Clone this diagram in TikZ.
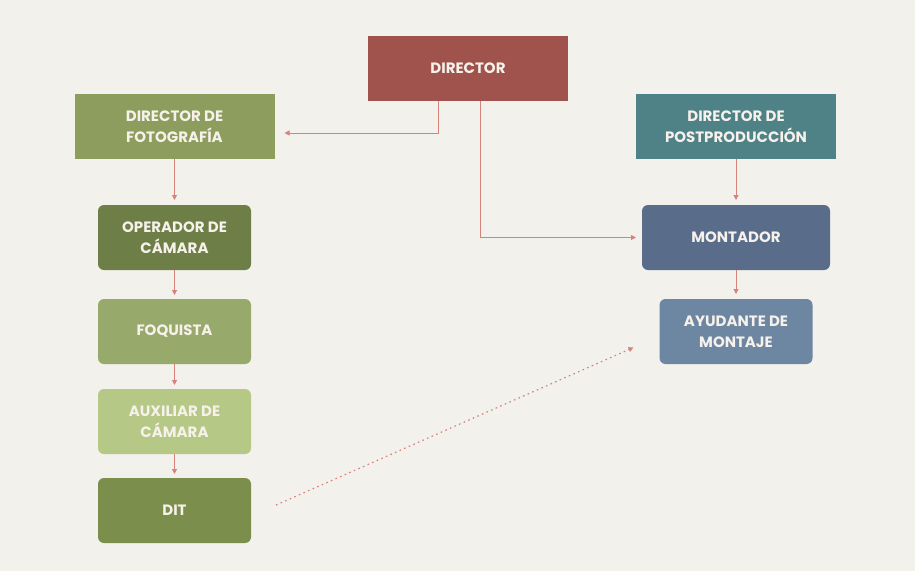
\documentclass[tikz,border=0pt]{standalone}
\usepackage{fontspec}
\setmainfont{Poppins}
\usepackage{xcolor}
\usepackage{tikz}
\usetikzlibrary{arrows.meta, positioning}
\definecolor{paper}{HTML}{F2F1EC}
\definecolor{dirred}{HTML}{A0534D}
\definecolor{fotogreen}{HTML}{8C9D5D}
\definecolor{postteal}{HTML}{4F8286}
\definecolor{opergreen}{HTML}{6E7E47}
\definecolor{foqgreen}{HTML}{97A96B}
\definecolor{auxgreen}{HTML}{B5C886}
\definecolor{ditgreen}{HTML}{7B8E4C}
\definecolor{montblue}{HTML}{596D8A}
\definecolor{ayudblue}{HTML}{6D87A3}
\definecolor{linkred}{HTML}{D7837C}
\definecolor{labelwhite}{HTML}{F6F1EA}
\tikzset{
  head/.style={rectangle, minimum width=200pt, minimum height=65pt, inner sep=0pt, outer sep=0pt, align=center, text=labelwhite, font=\fontsize{15}{21}\selectfont\bfseries},
  crew/.style={head, rounded corners=6pt, minimum width=153pt},
  arr/.style={-{Triangle[length=5pt,width=5pt]}, line width=1pt, linkred},
  dotarr/.style={arr, line width=1.2pt, dash pattern=on 1.6pt off 3.4pt},
}
\begin{document}
\begin{tikzpicture}[x=1pt, y=-1pt, node distance=29pt]
\useasboundingbox[fill=paper] (0,0) rectangle (915,571);
\node[head, fill=dirred] (dir) at (468,68.5) {DIRECTOR};
\node[head, fill=fotogreen] (foto) at (174.5,126.5) {DIRECTOR DE\\FOTOGRAFÍA};
\node[head, fill=postteal] (post) at (736,126.5) {DIRECTOR DE\\POSTPRODUCCIÓN};

\node[crew, fill=opergreen, below=46pt of foto] (oper) {OPERADOR DE\\CÁMARA};
\node[crew, fill=foqgreen, below=of oper] (foq) {FOQUISTA};
\node[crew, fill=auxgreen, below=25pt of foq] (aux) {AUXILIAR DE\\CÁMARA};
\node[crew, fill=ditgreen, below=24pt of aux] (dit) {DIT};

\node[crew, fill=montblue, minimum width=188pt, below=46pt of post] (mont) {MONTADOR};
\node[crew, fill=ayudblue, below=of mont] (ayud) {AYUDANTE DE\\MONTAJE};

\draw[arr, shorten >=10pt] ([xshift=-30pt]dir.south) |- ([yshift=-6.5pt]foto.east);
\draw[arr, shorten >=6pt] ([xshift=12pt]dir.south) |- (mont.west);
\draw[arr, shorten >=5pt] (foto) -- (oper);
\draw[arr, shorten >=4pt] (oper) -- (foq);
\draw[arr, shorten >=4pt] (foq) -- (aux);
\draw[arr, shorten >=4pt] (aux) -- (dit);
\draw[arr, shorten >=5pt] (post) -- (mont);
\draw[arr, shorten >=5pt] (mont) -- (ayud);
\draw[dotarr] ([xshift=25pt, yshift=5.5pt]dit.east) -- ([xshift=-26pt, yshift=-16pt]ayud.west);
\end{tikzpicture}
\end{document}
